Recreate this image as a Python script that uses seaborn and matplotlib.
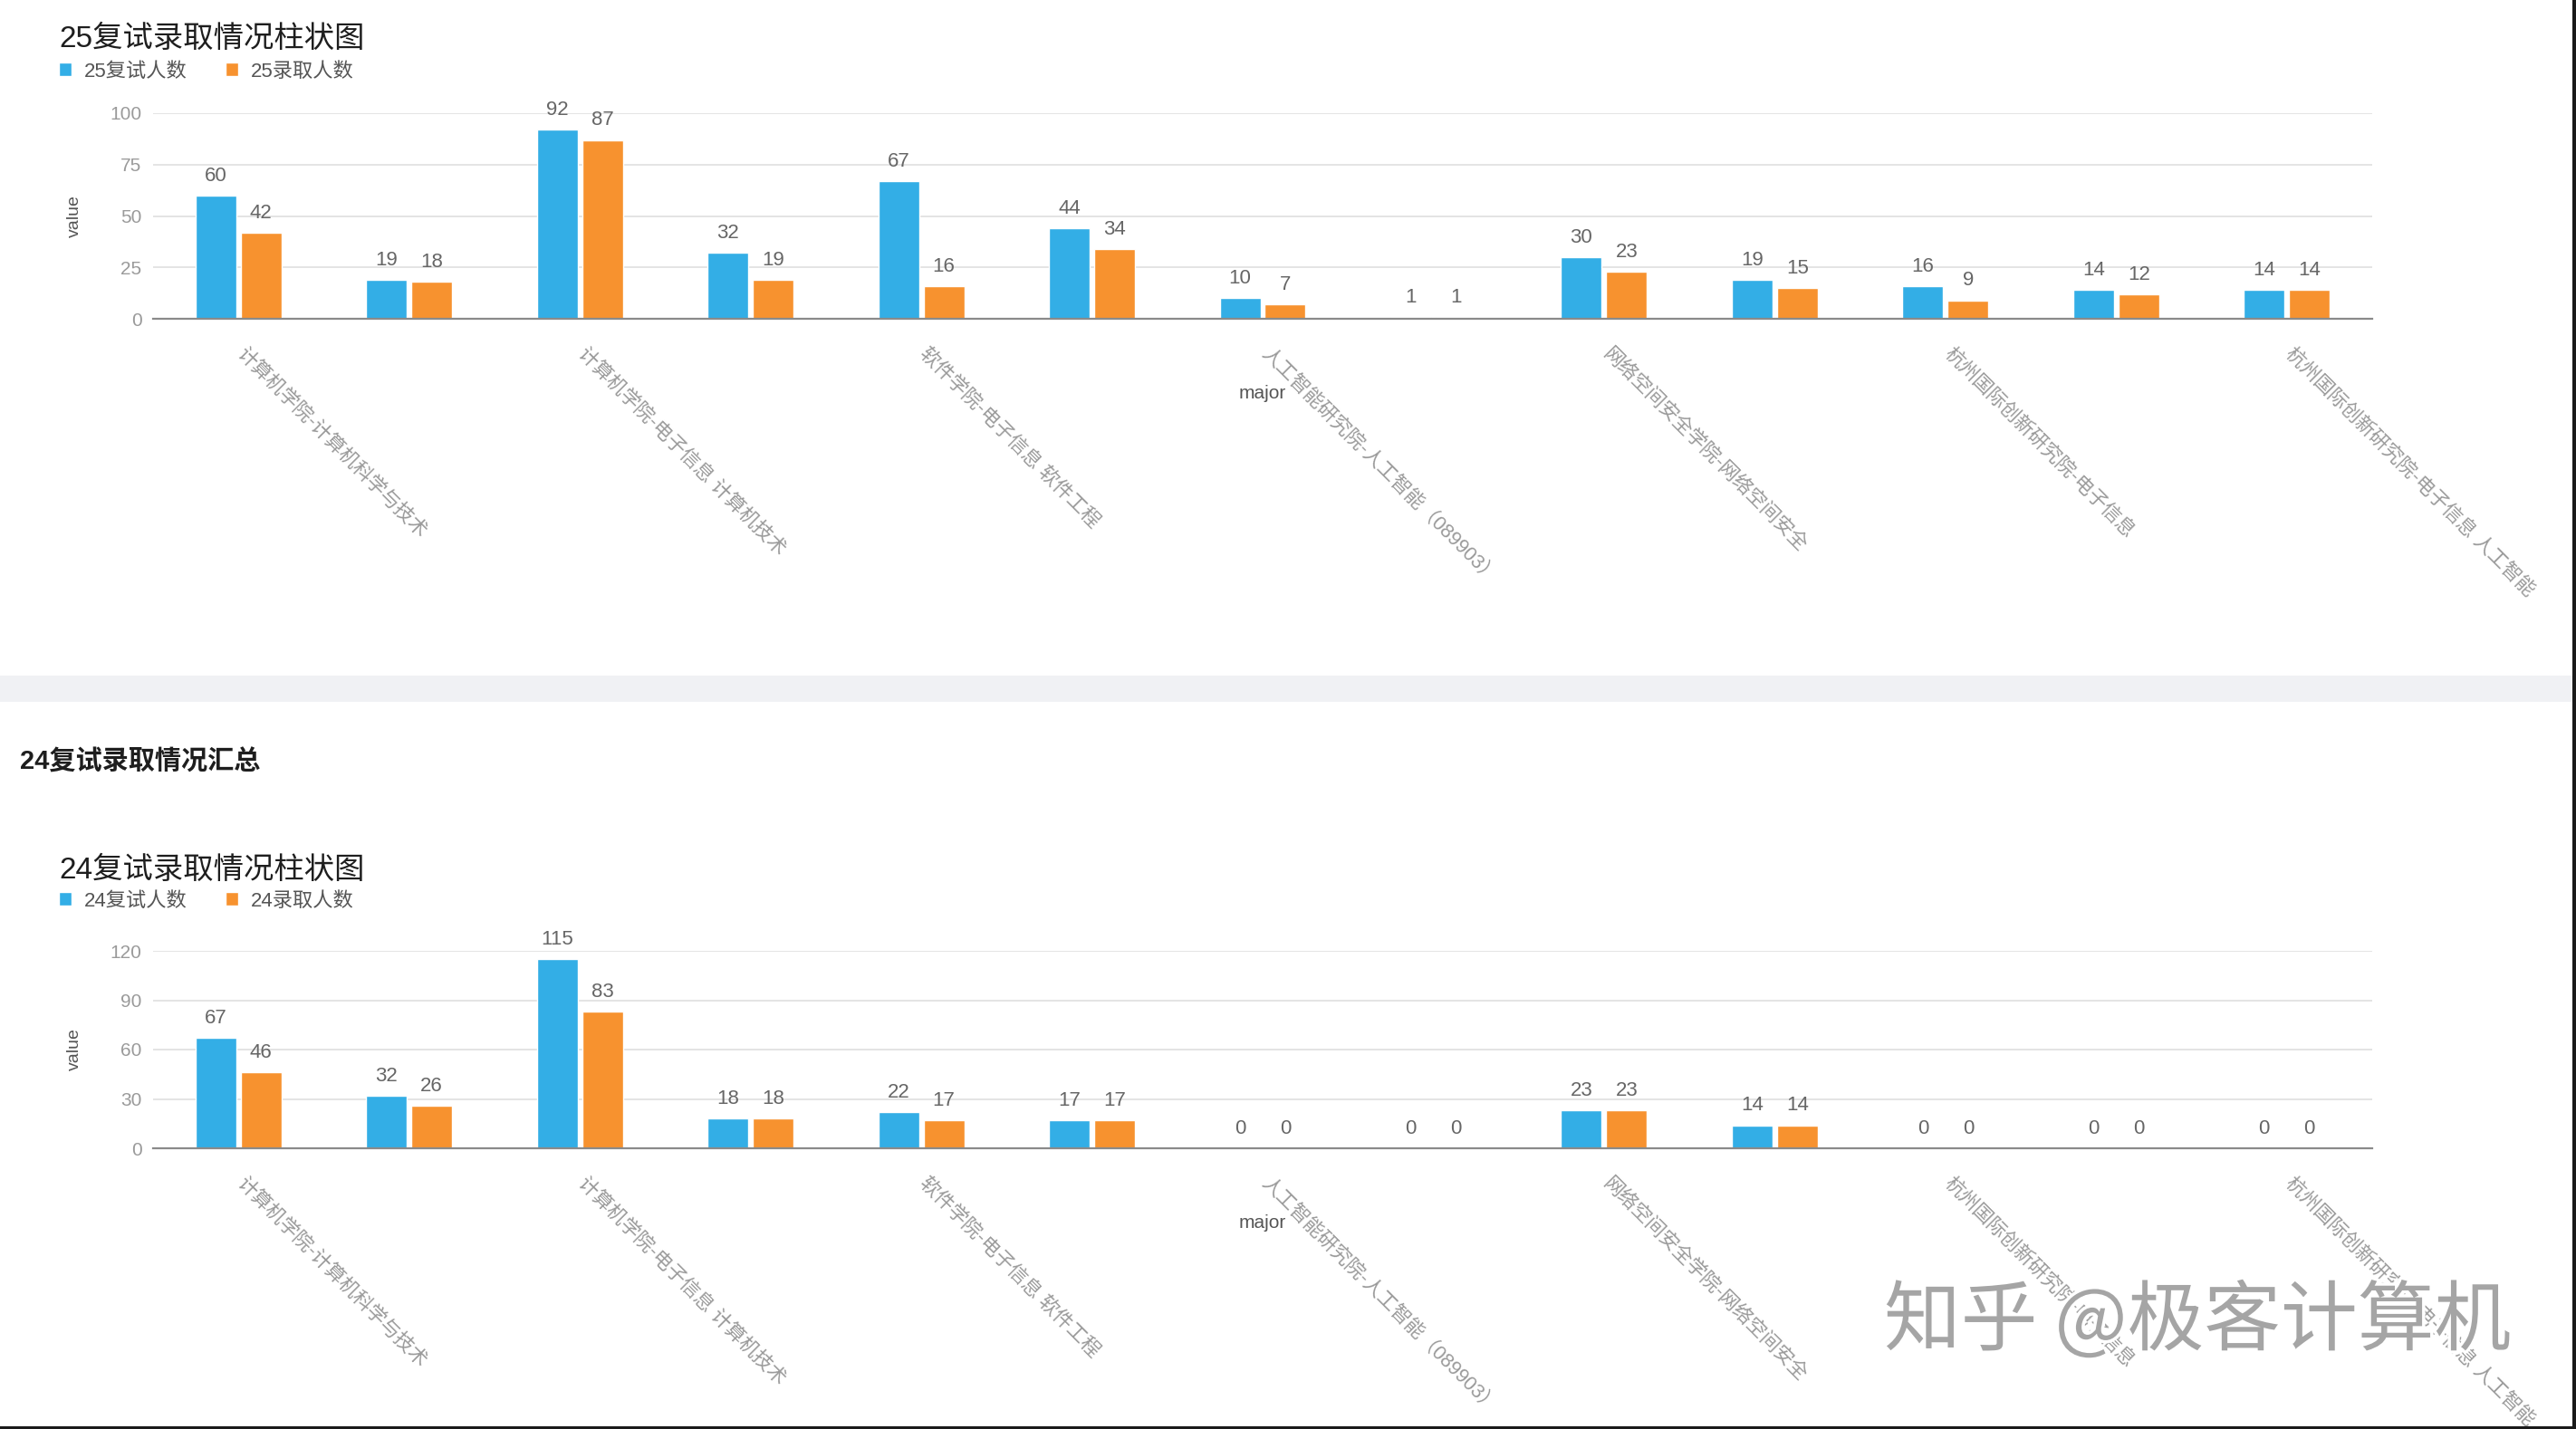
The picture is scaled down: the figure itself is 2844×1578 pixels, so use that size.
import numpy as np
import pandas as pd
import matplotlib
matplotlib.use("Agg")
import matplotlib.pyplot as plt
import seaborn as sns
from matplotlib import patheffects as pe
from matplotlib.patches import Rectangle
from matplotlib.transforms import ScaledTranslation

# ---------------- data ----------------
majors = [
    "计算机学院-计算机科学与技术",
    "计算机学院-软件工程",
    "计算机学院-电子信息 计算机技术",
    "计算机学院-电子信息 人工智能",
    "软件学院-电子信息 软件工程",
    "软件学院-软件工程",
    "人工智能研究院-人工智能（089903）",
    "人工智能研究院-电子信息 人工智能",
    "网络空间安全学院-网络空间安全",
    "网络空间安全学院-电子信息 网络与信息安全",
    "杭州国际创新研究院-电子信息",
    "杭州国际创新研究院-计算机科学与技术",
    "杭州国际创新研究院-电子信息 人工智能",
]
retest_25 = [60, 19, 92, 32, 67, 44, 10, 1, 30, 19, 16, 14, 14]
admit_25 = [42, 18, 87, 19, 16, 34, 7, 1, 23, 15, 9, 12, 14]
retest_24 = [67, 32, 115, 18, 22, 17, 0, 0, 23, 14, 0, 0, 0]
admit_24 = [46, 26, 83, 18, 17, 17, 0, 0, 23, 14, 0, 0, 0]
yticks_25 = [0, 25, 50, 75, 100]
yticks_24 = [0, 30, 60, 90, 120]
series_25 = ["25复试人数", "25录取人数"]
series_24 = ["24复试人数", "24录取人数"]
title_25 = "25复试录取情况柱状图"
title_24 = "24复试录取情况柱状图"
heading_24 = "24复试录取情况汇总"
watermark = "知乎 @极客计算机"

# ---------------- style ----------------
sns.set_theme(style="white")
plt.rcParams['font.family'] = ['Liberation Sans', 'Noto Sans CJK SC', 'DejaVu Sans']

BLUE = '#33AEE6'
ORANGE = '#F7922F'
W, H = 2844, 1578

fig = plt.figure(figsize=(W / 100, H / 100), dpi=100)
fig.patch.set_facecolor('white')


def fx(px):
    return px / W


def fy(py):
    return 1 - py / H


# grey separator band between the two sections
fig.patches.append(Rectangle((0, fy(775)), 1, (775 - 746) / H, transform=fig.transFigure,
                             facecolor='#F0F1F4', edgecolor='none', zorder=0))


def draw(top_px, bottom_px, s1, s2, names, yticks, title, title_y, legend_y):
    left_px, right_px = 169, 2619
    ax = fig.add_axes([fx(left_px), fy(bottom_px), (right_px - left_px) / W, (bottom_px - top_px) / H])
    df = pd.DataFrame({
        'major': majors * 2,
        'value': list(s1) + list(s2),
        'series': [names[0]] * len(majors) + [names[1]] * len(majors),
    })
    sns.barplot(data=df, x='major', y='value', hue='series', order=majors, hue_order=names,
                palette=[BLUE, ORANGE], width=0.53, gap=0.1, saturation=1, errorbar=None,
                ax=ax)
    for c in ax.containers:
        ax.bar_label(c, fmt='%d', padding=8, fontsize=16, color='#666666')

    ax.set_xlim(-0.5, len(majors) - 0.5)
    ax.set_ylim(0, yticks[-1])
    ax.set_yticks(yticks)
    ax.yaxis.grid(True, color='#E2E2E2', lw=1.3)
    ax.set_axisbelow(True)
    for s in ['top', 'right', 'left']:
        ax.spines[s].set_visible(False)
    ax.spines['bottom'].set_color('#8A8A8A')
    ax.spines['bottom'].set_linewidth(1.6)
    ax.tick_params(axis='y', length=0, pad=9, labelsize=15, labelcolor='#9A9A9A')

    idx = list(range(0, len(majors), 2))
    ax.set_xticks(idx)
    ax.set_xticklabels([majors[i] for i in idx], rotation=-45, ha='left', va='top',
                       rotation_mode='anchor', fontsize=15.5, color='#9A9A9A')
    ax.tick_params(axis='x', length=0, pad=20)
    shift = ScaledTranslation(9 / 100, 0, fig.dpi_scale_trans)
    for lbl in ax.get_xticklabels():
        lbl.set_transform(lbl.get_transform() + shift)

    ax.set_xlabel('major', fontsize=15, color='#555555')
    ax.xaxis.set_label_coords(0.5, -(73) / (bottom_px - top_px))
    ax.set_ylabel('value', fontsize=14, color='#555555')
    ax.yaxis.set_label_coords(-0.032, 0.5)

    handles, labels = ax.get_legend_handles_labels()
    if ax.legend_ is not None:
        ax.legend_.remove()
    fig.legend(handles, labels, loc='center left', bbox_to_anchor=(fx(65), fy(legend_y)),
               bbox_transform=fig.transFigure, ncol=2, frameon=False, fontsize=16,
               handlelength=0.65, handleheight=0.65, handletextpad=0.6, columnspacing=1.9,
               borderpad=0, borderaxespad=0, labelcolor='#555555')
    fig.text(fx(65), fy(title_y), title, fontsize=24, va='center', ha='left', color='#1E1E1E')
    return ax


draw(125, 352, retest_25, admit_25, series_25, yticks_25, title_25, 43, 79)
fig.text(fx(22), fy(841), heading_24, fontsize=21, fontweight='bold', va='center', ha='left',
         color='#1E1E1E')
draw(1050, 1268, retest_24, admit_24, series_24, yticks_24, title_24, 961, 995)

# watermark
fig.text(fx(2080), fy(1460), watermark, fontsize=61, va='center', ha='left', color='#A5A5A5',
         family=['Noto Sans CJK SC', 'DejaVu Sans'], zorder=20,
         path_effects=[pe.withStroke(linewidth=5, foreground='white')])

# screenshot frame on right and bottom edges
fig.patches.append(Rectangle((fx(2840), 0), 4 / W, 1, transform=fig.transFigure,
                             facecolor='#1A1A1A', edgecolor='none', zorder=30))
fig.patches.append(Rectangle((0, 0), 1, 3 / H, transform=fig.transFigure,
                             facecolor='#1A1A1A', edgecolor='none', zorder=30))

fig.savefig('out.png', dpi=100, facecolor='white')
